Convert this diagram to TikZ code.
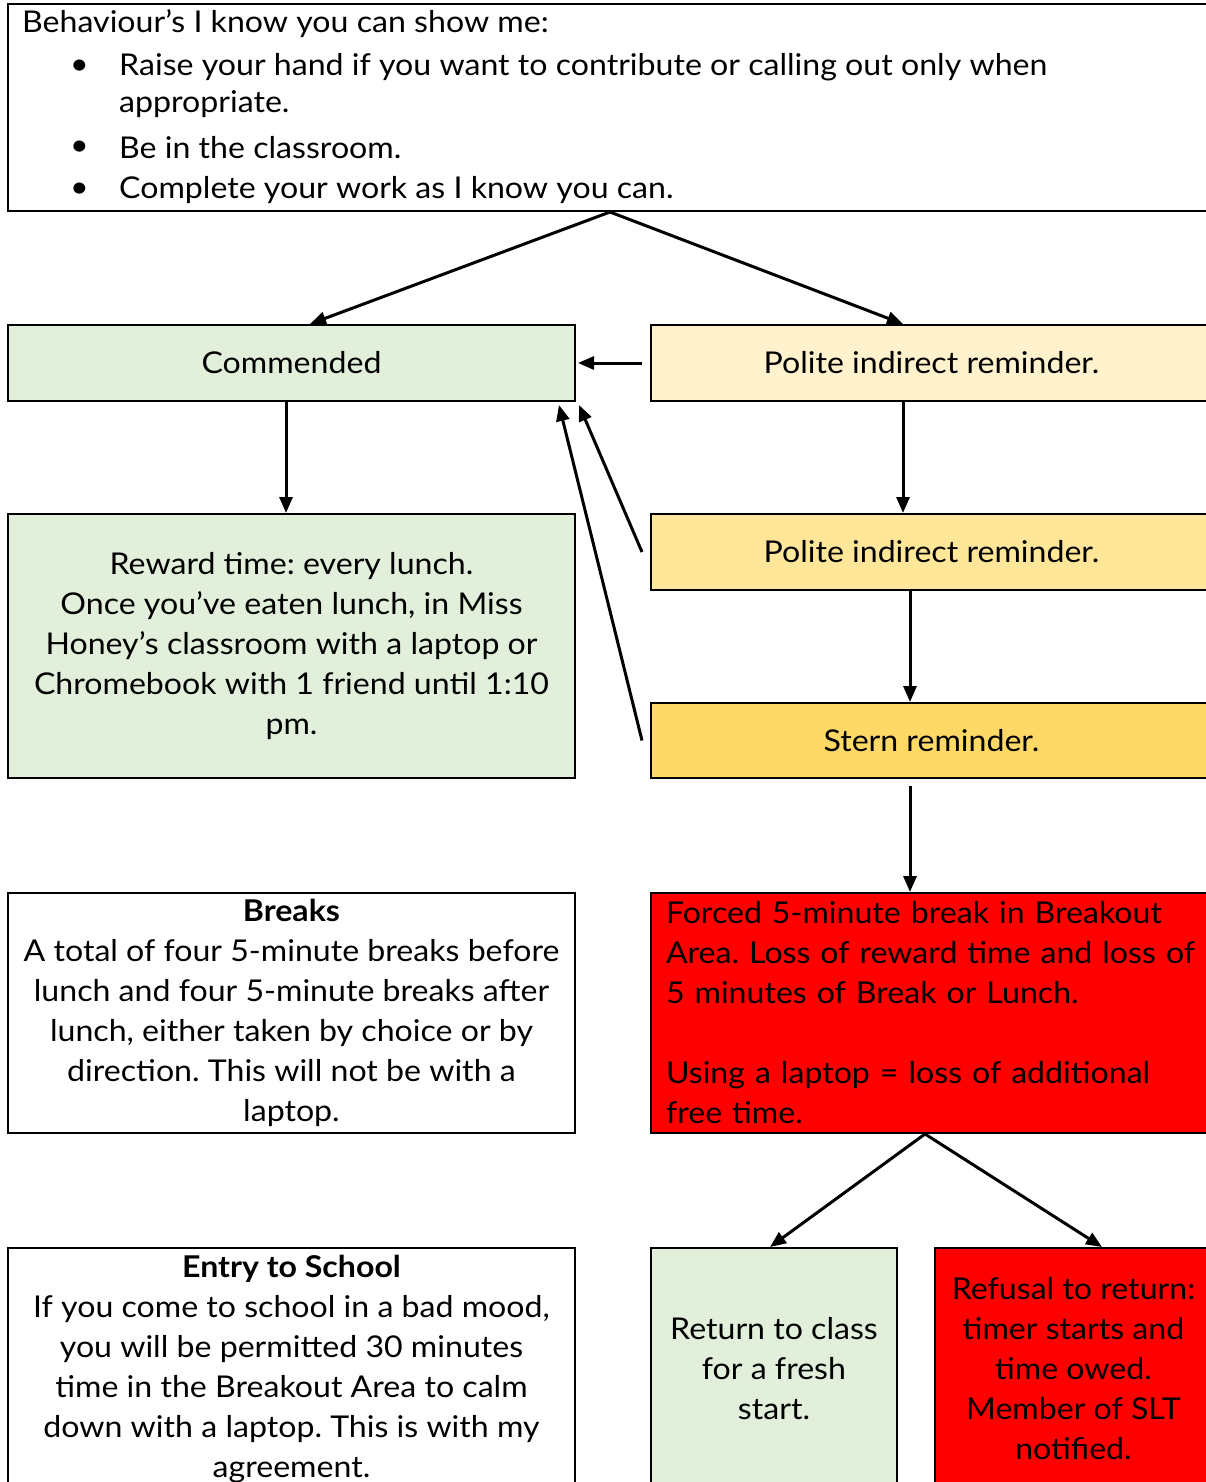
\documentclass[tikz,border=0pt]{standalone}
\usepackage{fontspec}
\setmainfont{Lato}[FakeStretch=1.07]
\usetikzlibrary{arrows.meta}
\frenchspacing
\definecolor{cgreen}{HTML}{E2EFDA}
\definecolor{cy1}{HTML}{FFF2CC}
\definecolor{cy2}{HTML}{FFE699}
\definecolor{cy3}{HTML}{FFD966}
\definecolor{cred}{HTML}{FF0000}
\tikzset{
  box/.style={draw=black, line width=2pt, rectangle, inner sep=0pt, align=center,
    font=\fontsize{30}{40}\selectfont},
  txt/.style={inner sep=0pt, font=\fontsize{30}{40}\selectfont},
  arr/.style={line width=3pt, -{Triangle[length=16pt,width=13pt]}},
}
\begin{document}
\begin{tikzpicture}[x=1pt,y=-1pt]
\useasboundingbox (0,0) rectangle (1206,1482);
\clip (0,0) rectangle (1206,1482);
% top box
\node[box, minimum width=1204pt, minimum height=207pt] (top) at (610,107.5) {};
\node[txt, anchor=west] (t0) at (22,24) {Behaviour’s I know you can show me:};
\node[txt, anchor=west] (b1) at (70,67) {\textbullet};
\node[txt, anchor=west] (t1) at (119,67) {Raise your hand if you want to contribute or calling out only when};
\node[txt, anchor=west] (t1b) at (119,104) {appropriate.};
\node[txt, anchor=west] (b2) at (70,148) {\textbullet};
\node[txt, anchor=west] (t2) at (119,148) {Be in the classroom.};
\node[txt, anchor=west] (b3) at (70,190) {\textbullet};
\node[txt, anchor=west] (t3) at (119,190) {Complete your work as I know you can.};
% left column
\node[box, fill=cgreen, minimum width=567pt, minimum height=76pt] (comm) at (291.5,363) {Commended};
\node[box, fill=cgreen, minimum width=567pt, minimum height=264pt] (rew) at (291.5,646) {Reward time: every lunch.\\Once you’ve eaten lunch, in Miss\\Honey’s classroom with a laptop or\\Chromebook with 1 friend until 1:10\\pm.};
\node[box, fill=white, minimum width=567pt, minimum height=240pt] (brk) at (291.5,1013) {\textbf{Breaks}\\A total of four 5-minute breaks before\\lunch and four 5-minute breaks after\\lunch, either taken by choice or by\\direction. This will not be with a\\laptop.};
\node[box, fill=white, minimum width=567pt, minimum height=242pt] (ent) at (291.5,1369) {\textbf{Entry to School}\\If you come to school in a bad mood,\\you will be permitted 30 minutes\\time in the Breakout Area to calm\\down with a laptop. This is with my\\agreement.};
% right column
\node[box, fill=cy1, minimum width=561pt, minimum height=76pt] (pol1) at (931.5,363) {Polite indirect reminder.};
\node[box, fill=cy2, minimum width=561pt, minimum height=76pt] (pol2) at (931.5,552) {Polite indirect reminder.};
\node[box, fill=cy3, minimum width=561pt, minimum height=75pt] (stern) at (931.5,740.5) {Stern reminder.};
\node[box, fill=cred, minimum width=561pt, minimum height=240pt, align=left, text width=531pt] (frc) at (931.5,1013) {Forced 5-minute break in Breakout\\Area. Loss of reward time and loss of\\5 minutes of Break or Lunch.\\[40pt]Using a laptop = loss of additional\\free time.};
\node[box, fill=cgreen, minimum width=246pt, minimum height=242pt] (ret) at (774,1369) {Return to class\\for a fresh\\start.};
\node[box, fill=cred, minimum width=277pt, minimum height=242pt] (ref) at (1073.5,1369) {Refusal to return:\\timer starts and\\time owed.\\Member of SLT\\notified.};
% arrows
\draw[arr] (top.south) -- ([xshift=18.5pt]comm.north);
\draw[arr] (top.south) -- ([xshift=-28.5pt]pol1.north);
\draw[arr] ([xshift=-8pt]pol1.west) -- ([xshift=2pt]comm.east);
\draw[arr] ([xshift=-5.5pt]comm.south) -- ([xshift=-5.5pt]rew.north);
\draw[arr] ([xshift=-28.5pt]pol1.south) -- ([xshift=-28.5pt]pol2.north);
\draw[arr] ([xshift=-21.5pt]pol2.south) -- ([xshift=-21.5pt]stern.north);
\draw[arr] ([xshift=-8pt]pol2.west) -- ([xshift=3pt,yshift=-3pt]comm.south east);
\draw[arr] ([xshift=-8pt]stern.west) -- ([xshift=-17pt,yshift=-3pt]comm.south east);
\draw[arr] ([xshift=-21.5pt,yshift=-7pt]stern.south) -- ([xshift=-21.5pt]frc.north);
\draw[arr] ([xshift=-6.5pt]frc.south) -- ([xshift=-4pt]ret.north);
\draw[arr] ([xshift=-6.5pt]frc.south) -- ([xshift=28.5pt]ref.north);
\end{tikzpicture}
\end{document}
